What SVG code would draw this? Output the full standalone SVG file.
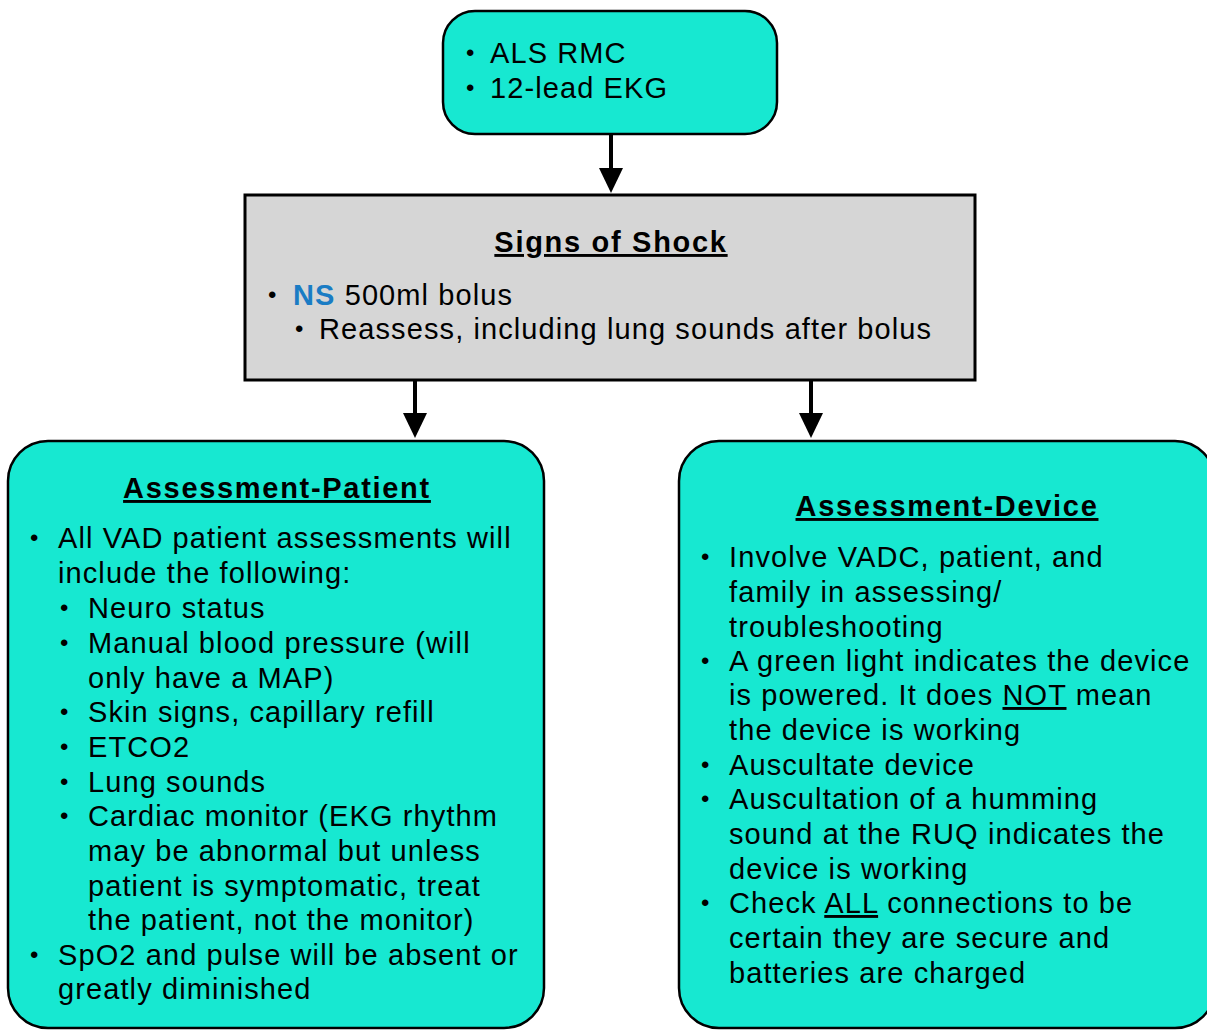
<svg xmlns="http://www.w3.org/2000/svg" width="1207" height="1030" viewBox="0 0 1207 1030">
<defs>
<style>
.box{fill:#17E8D1;stroke:#000;stroke-width:2.5}
.gray{fill:#D6D6D6;stroke:#000;stroke-width:3}
text{font-family:"Liberation Sans",Arial,sans-serif;font-size:29px;fill:#000;letter-spacing:1.1px}
.t{font-weight:bold;text-decoration:underline;letter-spacing:1.7px}
.conn{stroke:#000;stroke-width:4;fill:none}
.u{text-decoration:underline}
.b{font-size:24px}
</style>
</defs>
<rect width="1207" height="1030" fill="#fff"/>
<g id="connectors">
<path class="conn" d="M611,134 V170"/><polygon points="599,168 623,168 611,193"/>
<path class="conn" d="M415,380 V415"/><polygon points="403,413 427,413 415,438"/>
<path class="conn" d="M811,380 V415"/><polygon points="799,413 823,413 811,438"/>
</g>
<g id="top">
<rect class="box" x="443" y="11" width="334" height="123" rx="32"/>
<text class="b" x="466" y="61">•</text><text x="490" y="63">ALS RMC</text>
<text class="b" x="466" y="96">•</text><text x="490" y="98">12-lead EKG</text>
</g>
<g id="shock">
<rect class="gray" x="245" y="195" width="730" height="185"/>
<text class="t" x="611" y="252" text-anchor="middle">Signs of Shock</text>
<text class="b" x="268" y="303">•</text><text x="293" y="305"><tspan fill="#1A7CC4" font-weight="bold">NS</tspan> 500ml bolus</text>
<text class="b" x="295" y="337">•</text><text x="319" y="339">Reassess, including lung sounds after bolus</text>
</g>
<g id="patient">
<rect class="box" x="8" y="441" width="536" height="587" rx="40"/>
<text class="t" x="277" y="498" text-anchor="middle">Assessment-Patient</text>
<text class="b" x="30" y="546">•</text><text x="58" y="548">All VAD patient assessments will</text>
<text x="58" y="583">include the following:</text>
<text class="b" x="60" y="616">•</text><text x="88" y="618">Neuro status</text>
<text class="b" x="60" y="651">•</text><text x="88" y="653">Manual blood pressure (will</text>
<text x="88" y="688">only have a MAP)</text>
<text class="b" x="60" y="720">•</text><text x="88" y="722">Skin signs, capillary refill</text>
<text class="b" x="60" y="755">•</text><text x="88" y="757">ETCO2</text>
<text class="b" x="60" y="790">•</text><text x="88" y="792">Lung sounds</text>
<text class="b" x="60" y="824">•</text><text x="88" y="826">Cardiac monitor (EKG rhythm</text>
<text x="88" y="861">may be abnormal but unless</text>
<text x="88" y="896">patient is symptomatic, treat</text>
<text x="88" y="930">the patient, not the monitor)</text>
<text class="b" x="30" y="963">•</text><text x="58" y="965">SpO2 and pulse will be absent or</text>
<text x="58" y="999">greatly diminished</text>
</g>
<g id="device">
<rect class="box" x="679" y="441" width="536" height="587" rx="40"/>
<text class="t" x="947" y="516" text-anchor="middle">Assessment-Device</text>
<text class="b" x="701" y="565">•</text><text x="729" y="567">Involve VADC, patient, and</text>
<text x="729" y="602">family in assessing/</text>
<text x="729" y="637">troubleshooting</text>
<text class="b" x="701" y="669">•</text><text x="729" y="671">A green light indicates the device</text>
<text x="729" y="705">is powered. It does <tspan class="u">NOT</tspan> mean</text>
<text x="729" y="740">the device is working</text>
<text class="b" x="701" y="773">•</text><text x="729" y="775">Auscultate device</text>
<text class="b" x="701" y="807">•</text><text x="729" y="809">Auscultation of a humming</text>
<text x="729" y="844">sound at the RUQ indicates the</text>
<text x="729" y="879">device is working</text>
<text class="b" x="701" y="911">•</text><text x="729" y="913">Check <tspan class="u">ALL</tspan> connections to be</text>
<text x="729" y="948">certain they are secure and</text>
<text x="729" y="983">batteries are charged</text>
</g>
</svg>
